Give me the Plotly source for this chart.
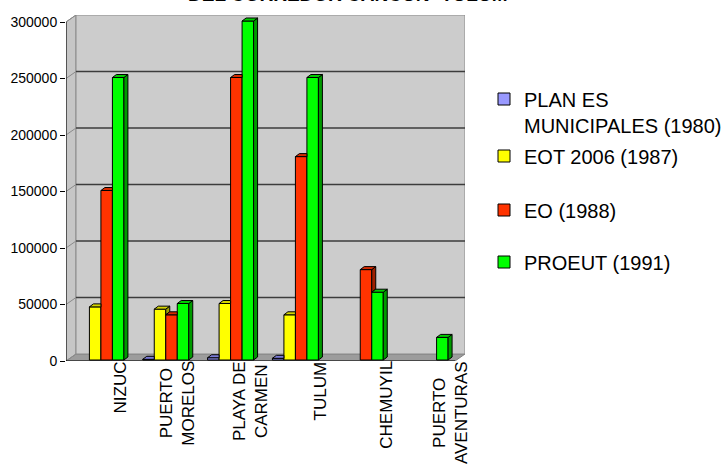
import plotly.graph_objects as go

# ---------------------------------------------------------------- data
categories = ["NIZUC", "PUERTO<br>MORELOS", "PLAYA DE<br>CARMEN",
              "TULUM", "CHEMUYIL", "PUERTO<br>AVENTURAS"]
series_names = ["PLAN ES<br>MUNICIPALES (1980)", "EOT 2006 (1987)",
                "EO (1988)", "PROEUT (1991)"]
plan_municipales_1980 = [None, 600, 2000, 1500, None, None]
eot_2006_1987 = [47000, 45000, 50000, 40000, None, None]
eo_1988 = [150000, 40000, 250000, 180000, 80000, None]
proeut_1991 = [250000, 50000, 300000, 250000, 60000, 20000]
y_ticks = [0, 50000, 100000, 150000, 200000, 250000, 300000]
title_text = "DEL CORREDOR CANCUN- TULUM"

series_values = [plan_municipales_1980, eot_2006_1987, eo_1988, proeut_1991]

# ---------------------------------------------------------------- styling
FONT = "Liberation Sans, Arial, sans-serif"
# (front, side, top) colours per series
FACE_COLORS = [
    ("#9999FF", "#5C5CA8", "#7A7AD6"),
    ("#FFFF00", "#9E9E00", "#D4D400"),
    ("#FF3300", "#9E2000", "#D42A00"),
    ("#00FF00", "#009A00", "#00CC00"),
]

W, H = 726, 464
ML, MR, MT, MB = 66, 261, 15, 103
PLOT_W, PLOT_H = W - ML - MR, H - MT - MB
WALL_DX_PX, WALL_DY_PX = 10, 7          # depth of the back wall
N = len(categories)
VMAX = y_ticks[-1]
ux = (PLOT_W - WALL_DX_PX) / N          # px per category unit
uy = (PLOT_H - WALL_DY_PX) / VMAX       # px per value unit
WDX, WDY = WALL_DX_PX / ux, WALL_DY_PX / uy
BAR_W = 11.5 / ux
SX, SY = 4 / ux, 3 / uy                 # bar depth
BASE = 1 / uy
GROUP_SHIFT = 2.5 / ux
X0, X1 = -0.5, N - 0.5

fig = go.Figure()

# ---------------------------------------------------------------- bars
def side_poly(xr, v, v_next):
    """Right face of a bar, trimmed where the next bar stands in front."""
    top = BASE + v
    h = BASE + (v_next or 0)
    if v_next and v_next >= v:
        return None
    lo = h if v_next else BASE
    return [(xr, lo), (xr + SX, lo + SY), (xr + SX, top + SY), (xr, top)]


def cap_poly(xl, xr, v, v_next):
    """Top face of a bar, trimmed where the next bar's front hides it."""
    y0 = BASE + v
    y1 = y0 + SY
    h = BASE + (v_next or 0)
    if not v_next or h <= y0:
        return [(xl, y0), (xr, y0), (xr + SX, y1), (xl + SX, y1)]
    if h >= y1:
        return [(xl, y0), (xr, y0), (xr, y1), (xl + SX, y1)]
    xm = xr + (h - y0) * SX / SY
    return [(xl, y0), (xr, y0), (xr, h), (xm, h), (xr + SX, y1), (xl + SX, y1)]


def add_polys(polys, color):
    xs, ys = [], []
    for p in polys:
        for (px, py) in p + [p[0]]:
            xs.append(px)
            ys.append(py)
        xs.append(None)
        ys.append(None)
    if xs:
        fig.add_trace(go.Scatter(
            x=xs, y=ys, mode="lines", fill="toself", fillcolor=color,
            line=dict(color="black", width=1), hoverinfo="skip",
            showlegend=False))


n_series = len(series_values)
for k, vals in enumerate(series_values):
    front, side, top = FACE_COLORS[k]
    offset = -2 * BAR_W + k * BAR_W + GROUP_SHIFT
    fig.add_trace(go.Bar(
        x=list(range(N)), y=vals, base=BASE, offset=offset, width=BAR_W,
        name=series_names[k],
        marker=dict(color=front, line=dict(color="black", width=1)),
        legend="legend" if k == 0 else f"legend{k + 1}",
    ))
    sides, caps = [], []
    for i, v in enumerate(vals):
        if not v:
            continue
        nxt = series_values[k + 1][i] if k + 1 < n_series else None
        xl = i + offset
        xr = xl + BAR_W
        s = side_poly(xr, v, nxt)
        if s:
            sides.append(s)
        caps.append(cap_poly(xl, xr, v, nxt))
    add_polys(sides, side)
    add_polys(caps, top)

# ---------------------------------------------------------------- walls
shapes = []
shapes.append(dict(  # floor
    type="path", xref="x", yref="y", layer="below",
    path=f"M {X0},0 L {X1},0 L {X1 + WDX},{WDY} L {X0 + WDX},{WDY} Z",
    fillcolor="#9C9C9C", line=dict(color="#808080", width=1)))
shapes.append(dict(  # left side wall
    type="path", xref="x", yref="y", layer="below",
    path=f"M {X0},0 L {X0},{VMAX} L {X0 + WDX},{VMAX + WDY} L {X0 + WDX},{WDY} Z",
    fillcolor="#C6C6C6", line=dict(color="#8A8A8A", width=1)))
shapes.append(dict(  # back wall
    type="rect", xref="x", yref="y", layer="below",
    x0=X0 + WDX, x1=X1 + WDX, y0=WDY, y1=VMAX + WDY,
    fillcolor="#CCCCCC", line=dict(color="#8A8A8A", width=1)))
for v in y_ticks[1:-1]:
    shapes.append(dict(type="line", xref="x", yref="y", layer="below",
                       x0=X0 + WDX, x1=X1 + WDX, y0=v + WDY, y1=v + WDY,
                       line=dict(color="#3C3C3C", width=1.5)))
for v in y_ticks:
    shapes.append(dict(type="line", xref="x", yref="y", layer="below",
                       x0=X0, x1=X0 + WDX, y0=v, y1=v + WDY,
                       line=dict(color="#8A8A8A", width=1)))
shapes.append(dict(type="line", xref="x", yref="y", layer="below",
                   x0=X0, x1=X0, y0=0, y1=VMAX,
                   line=dict(color="black", width=1)))
shapes.append(dict(type="line", xref="x", yref="y", layer="below",
                   x0=X0, x1=X1, y0=0, y1=0,
                   line=dict(color="black", width=1)))

# ---------------------------------------------------------------- labels
LABEL_SHIFT_PX = [22, 14, 22, 28, 28, 28]
annotations = []
for i, name in enumerate(categories):
    annotations.append(dict(
        x=i, y=0, xref="x", yref="y", text=name, showarrow=False,
        textangle=-90, xanchor="center", yanchor="top", align="center",
        xshift=LABEL_SHIFT_PX[i], yshift=2,
        font=dict(family=FONT, size=17, color="black")))
annotations.append(dict(
    x=(347 - ML) / PLOT_W, y=(PLOT_H + MT - 7.5) / PLOT_H, xref="paper",
    yref="paper", text=f"<b>{title_text}</b>", showarrow=False,
    xanchor="center", yanchor="bottom",
    font=dict(family=FONT, size=19, color="black")))

# ---------------------------------------------------------------- legends
# one legend box per series, placed against the whole canvas
LEG_X_PX = 484
LEG_Y_PX = [112, 156, 210, 262]
legends = {}
for k, ypx in enumerate(LEG_Y_PX):
    key = "legend" if k == 0 else f"legend{k + 1}"
    legends[key] = dict(
        xref="container", yref="container",
        x=LEG_X_PX / W, xanchor="left", y=1 - ypx / H,
        yanchor="middle", valign="top", bgcolor="rgba(0,0,0,0)",
        font=dict(family=FONT, size=20, color="black"))

fig.update_layout(
    width=W, height=H, margin=dict(l=ML, r=MR, t=MT, b=MB, pad=0,
                                   autoexpand=False),
    paper_bgcolor="white", plot_bgcolor="white",
    barmode="overlay", shapes=shapes, annotations=annotations,
    showlegend=True,
    xaxis=dict(range=[X0, X1 + WDX], showgrid=False, zeroline=False,
               showticklabels=False, showline=False, ticks="",
               fixedrange=True),
    yaxis=dict(range=[0, VMAX + WDY], tickvals=y_ticks, tickformat="d",
               showgrid=False, zeroline=False, showline=False,
               ticks="outside", ticklen=5, tickcolor="black",
               tickfont=dict(family=FONT, size=14, color="black"),
               fixedrange=True),
    **legends,
)

fig.write_html("out.html")
